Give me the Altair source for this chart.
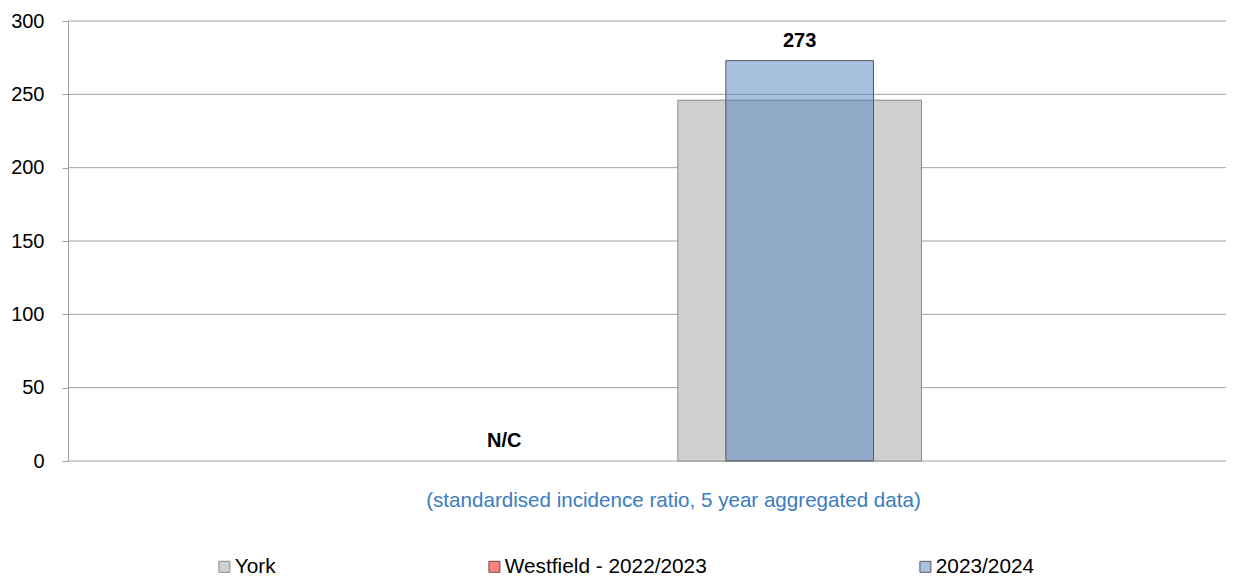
import altair as alt
import pandas as pd

# ---- data ----
series_names = ["York", "Westfield - 2022/2023", "2023/2024"]
categories = ["Westfield - 2022/2023", "2023/2024"]
bar_values = [None, 273]
bar_labels = ["N/C", "273"]
york_value = 246
y_ticks = [0, 50, 100, 150, 200, 250, 300]

fill_colors = ["#d0d0d0", "#ff8080", "rgba(79,129,189,0.5)"]
stroke_colors = ["#8c8c8c", "#6e4a4a", "#5a5a5a"]

bars = pd.DataFrame({
    "category": categories,
    "series": categories,
    "value": bar_values,
    "label": bar_labels,
})
bars["label_pos"] = bars["value"].fillna(0)

york = pd.DataFrame({"category": ["2023/2024"], "series": ["York"], "value": [york_value]})
grid = pd.DataFrame({"tick": y_ticks})

FONT = "Liberation Sans"
GRID = "#a0a0a0"

x_enc = alt.X(
    "category:N",
    sort=categories,
    scale=alt.Scale(domain=categories, paddingInner=0.5, paddingOuter=0, range=[362.5, 805.5]),
    axis=alt.Axis(
        title="(standardised incidence ratio, 5 year aggregated data)",
        labels=False, ticks=False, domain=False,
        titleFontSize=20.6, titleColor="#3b7cc0", titleFontWeight="normal", titleFont=FONT,
        titleX=605, titleY=39, titleAlign="center", titleBaseline="middle",
    ),
)
y_scale = alt.Scale(domain=[0, 300], nice=False)
y_enc = alt.Y(
    "value:Q",
    scale=y_scale,
    axis=alt.Axis(
        title=None, values=y_ticks,
        grid=False,
        domainColor=GRID, tickColor=GRID, tickSize=6,
        labelPadding=18, labelFontSize=20, labelColor="#000000", labelFont=FONT,
    ),
)

color_scale = alt.Scale(domain=series_names, range=fill_colors)
stroke_scale = alt.Scale(domain=series_names, range=stroke_colors)
legend = alt.Legend(
    title=None, orient="none", direction="horizontal",
    legendX=146, legendY=535, columnPadding=208,
    symbolType="square", symbolSize=121, symbolStrokeWidth=1,
    labelFontSize=20.8, labelFont=FONT, labelColor="#000000", labelOffset=0,
    labelLimit=500, padding=0,
)

grid_layer = alt.Chart(grid).mark_rule(color=GRID, strokeWidth=1).encode(
    y=alt.Y("tick:Q", scale=y_scale),
)

york_layer = alt.Chart(york).mark_bar(width=alt.RelativeBandSize(1.65), strokeWidth=1).encode(
    x=x_enc, y=y_enc,
    color=alt.Color("series:N", scale=color_scale, legend=legend),
    stroke=alt.Stroke("series:N", scale=stroke_scale, legend=legend),
)

bar_layer = alt.Chart(bars).mark_bar(strokeWidth=1).encode(
    x=x_enc, y=y_enc,
    color=alt.Color("series:N", scale=color_scale, legend=legend),
    stroke=alt.Stroke("series:N", scale=stroke_scale, legend=legend),
)

text_layer = alt.Chart(bars).mark_text(
    font=FONT, fontSize=20, fontWeight="bold", color="#000000", dy=-20, baseline="middle"
).encode(
    x=x_enc,
    y=alt.Y("label_pos:Q", scale=y_scale),
    text="label:N",
)

chart = alt.layer(grid_layer, york_layer, bar_layer, text_layer).properties(
    width=1158, height=440,
    autosize=alt.AutoSizeParams(type="none"),
    padding={"left": 60, "right": 0, "top": 13, "bottom": 115},
).configure_view(stroke=None)

chart.save("out.html", embed_options={"renderer": "svg", "actions": False})
